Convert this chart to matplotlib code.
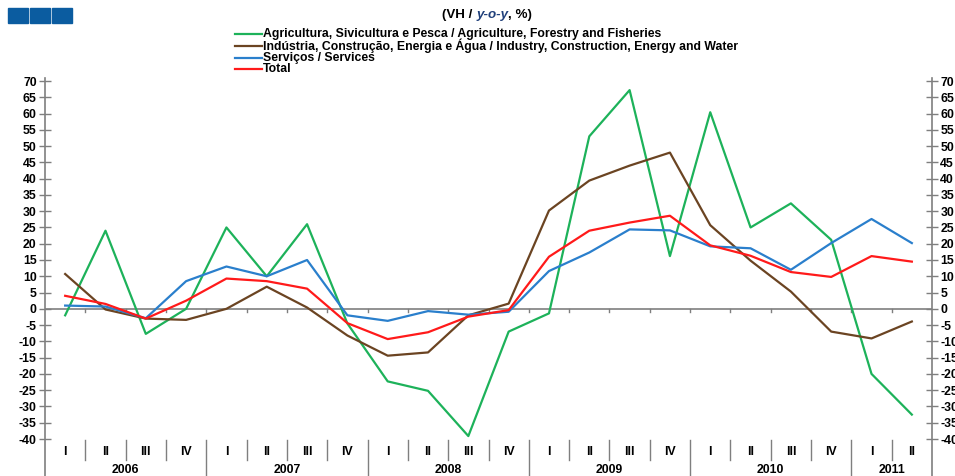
import matplotlib
matplotlib.use("Agg")
import matplotlib.pyplot as plt
from matplotlib.patches import Rectangle
from matplotlib.lines import Line2D
import numpy as np

plt.rcParams['font.family'] = ['Liberation Sans', 'DejaVu Sans']
plt.rcParams['font.weight'] = 'bold'

years = ['2006', '2007', '2008', '2009', '2010', '2011']
quarters = ['I', 'II', 'III', 'IV'] * 5 + ['I', 'II']

agric = [-2, 24, -7.7, 0, 25, 10, 26, -4.5, -22.3, -25.2, -39.1, -7,
         -1.4, 53, 67.2, 16.2, 60.4, 25, 32.4, 21.2, -20, -32.5]
indus = [10.7, -0.2, -3, -3.4, 0, 6.8, 0.4, -8.2, -14.4, -13.4, -2, 1.6,
         30.2, 39.4, 44, 48, 25.7, 14.8, 5.3, -7, -9.1, -3.9]
serv = [1, 0.7, -2.9, 8.5, 13, 10, 15, -2, -3.7, -0.7, -1.8, -0.9,
        11.6, 17.3, 24.4, 24.1, 19.2, 18.6, 12, 20.2, 27.6, 20.2]
total = [4, 1.5, -3, 2.5, 9.3, 8.5, 6.2, -4.4, -9.3, -7.2, -2.4, -0.4,
         16, 24, 26.5, 28.6, 19.5, 16.3, 11.3, 9.8, 16.2, 14.5]

labels = ['Agricultura, Sivicultura e Pesca / Agriculture, Forestry and Fisheries',
          'Indústria, Construção, Energia e Água / Industry, Construction, Energy and Water',
          'Serviços / Services',
          'Total']
colors = ['#1db25a', '#6b4422', '#2a7fcc', '#ff1a1a']

W, H = 955, 476
fig = plt.figure(figsize=(W / 100, H / 100), dpi=100)
ax = fig.add_axes([45 / W, (H - 439) / H, (932 - 45) / W, (439 - 81) / H])

n = len(quarters)
x = np.arange(n) + 0.5
for vals, c in zip([agric, indus, serv, total], colors):
    ax.plot(x, vals, color=c, lw=1.6, zorder=3)

ax.set_xlim(0, n)
ax.set_ylim(-40, 70)
for s in ax.spines.values():
    s.set_visible(False)
ax.set_xticks([])

gray = '#7f7f7f'
fs = 8.8
yt = np.arange(-40, 71, 5)
ax.set_yticks(yt)
ax.set_yticklabels([str(v) for v in yt])
ax.tick_params(axis='y', which='both', direction='inout', length=8, width=1,
               color=gray, labelsize=fs, pad=2, left=True, right=True,
               labelleft=True, labelright=True)
for lbl in ax.get_yticklabels():
    lbl.set_fontweight('bold')

ytr = ax.get_yaxis_transform()
ybot = -40 - 40 / 3.255
ax.plot([0, 0], [ybot, 71], transform=ytr, color=gray, lw=1.2, clip_on=False)
ax.plot([1, 1], [ybot, 71], transform=ytr, color=gray, lw=1.2, clip_on=False)

# zero line with small ticks
ax.axhline(0, color=gray, lw=1.2, zorder=2)
for i in range(1, n):
    ax.plot([i, i], [0, -1], color=gray, lw=1, zorder=2)

# quarter and year separators below the plot
for i in range(1, n):
    if i % 4 == 0:
        ax.plot([i, i], [-40.2, ybot], color=gray, lw=1, clip_on=False)
    else:
        ax.plot([i, i], [-40.2, -46.4], color=gray, lw=1, clip_on=False)

for xi, q in zip(x, quarters):
    ax.text(xi, -43.9, q, ha='center', va='center', fontsize=fs,
            fontweight='bold', clip_on=False)
for k, yr in enumerate(years):
    start = 4 * k
    end = min(4 * k + 4, n)
    ax.text((start + end) / 2, -49.6, yr, ha='center', va='center',
            fontsize=fs, fontweight='bold', clip_on=False)

# legend, drawn by hand
rows_y = [34, 46, 57.5, 69]
for lab, c, ry in zip(labels, colors, rows_y):
    fig.add_artist(Line2D([235 / W, 262 / W], [1 - ry / H, 1 - ry / H],
                          transform=fig.transFigure, color=c, lw=1.6))
    fig.text(263 / W, 1 - ry / H, lab, fontsize=8.8, fontweight='bold',
             va='center', ha='left')

# title
ty = 1 - 15 / H
t1 = fig.text(442 / W, ty, '(VH / ', fontsize=9.6, fontweight='bold',
              va='center', ha='left')
fig.canvas.draw()
bb = t1.get_window_extent()
t2 = fig.text(bb.x1 / W, ty, 'y-o-y', fontsize=9.6, fontweight='bold',
              style='italic', color='#1f3f7a', va='center', ha='left')
fig.canvas.draw()
bb2 = t2.get_window_extent()
fig.text(bb2.x1 / W, ty, ', %)', fontsize=9.6, fontweight='bold',
         va='center', ha='left')

# blue squares
for x0 in [8, 30, 52]:
    fig.patches.append(Rectangle((x0 / W, 1 - 23 / H), 20 / W, 15 / H,
                                 transform=fig.transFigure, color='#0b5ca0'))

fig.savefig('out.png', dpi=100)
